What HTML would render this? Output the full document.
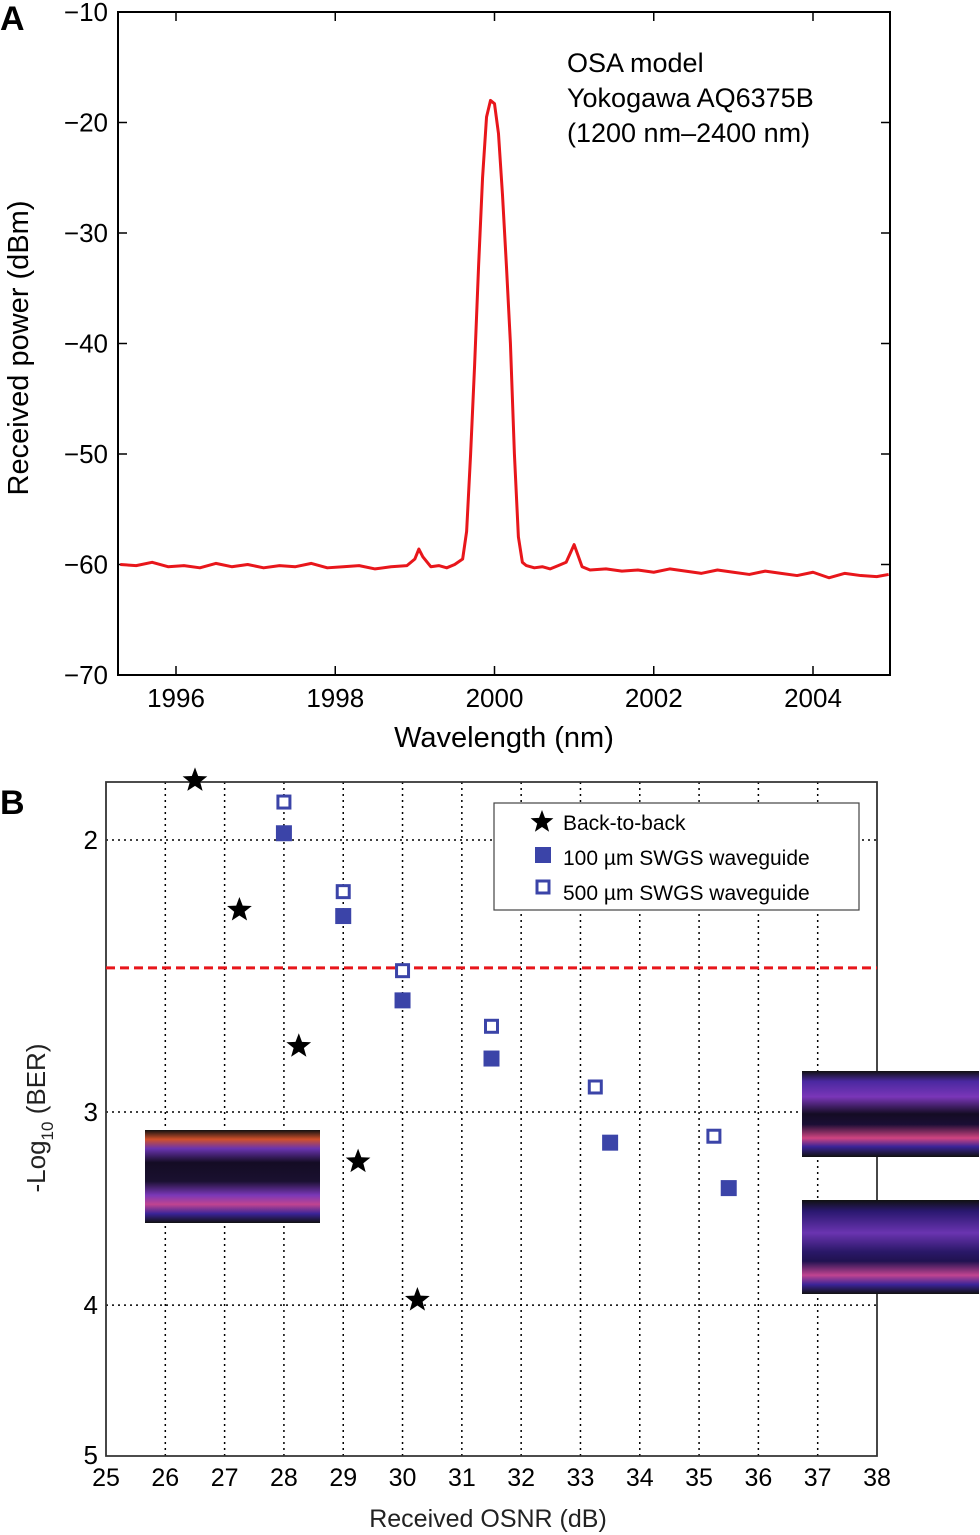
<!DOCTYPE html>
<html><head><meta charset="utf-8"><style>
body{margin:0;background:#fff;}
svg{display:block;font-family:"Liberation Sans",sans-serif;}
</style></head><body>
<svg id="fig" width="980" height="1535" viewBox="0 0 980 1535" xmlns="http://www.w3.org/2000/svg">
<defs>
<linearGradient id="eyeA" x1="0" y1="0" x2="0" y2="1">
<stop offset="0" stop-color="#111"/><stop offset="0.1" stop-color="#d0502a"/><stop offset="0.2" stop-color="#6a34b0"/><stop offset="0.35" stop-color="#140c24"/><stop offset="0.55" stop-color="#1a1030"/><stop offset="0.7" stop-color="#7a38b8"/><stop offset="0.8" stop-color="#c04490"/><stop offset="0.9" stop-color="#3a2498"/><stop offset="1" stop-color="#111"/></linearGradient>
<linearGradient id="eyeB" x1="0" y1="0" x2="0" y2="1">
<stop offset="0" stop-color="#111"/><stop offset="0.12" stop-color="#4a28a0"/><stop offset="0.3" stop-color="#7a36b8"/><stop offset="0.5" stop-color="#140c24"/><stop offset="0.62" stop-color="#1a0e34"/><stop offset="0.78" stop-color="#d04480"/><stop offset="0.88" stop-color="#3a2498"/><stop offset="1" stop-color="#111"/></linearGradient>
<linearGradient id="eyeC" x1="0" y1="0" x2="0" y2="1">
<stop offset="0" stop-color="#111"/><stop offset="0.12" stop-color="#2a1870"/><stop offset="0.35" stop-color="#6a34b0"/><stop offset="0.55" stop-color="#2a1868"/><stop offset="0.65" stop-color="#201250"/><stop offset="0.8" stop-color="#c04490"/><stop offset="0.9" stop-color="#3a2498"/><stop offset="1" stop-color="#111"/></linearGradient>
</defs>
<g id="panelA"></g>
<g id="panelB"></g>
</svg>
<script>
// ---------- Panel A data ----------
const wlTicks = [1996, 1998, 2000, 2002, 2004];
const pwTicks = [-10, -20, -30, -40, -50, -60, -70];
const spectrumWl = [1995.3,1995.5,1995.7,1995.9,1996.1,1996.3,1996.5,1996.7,1996.9,1997.1,1997.3,1997.5,1997.7,1997.9,1998.1,1998.3,1998.5,1998.7,1998.9,1999.0,1999.05,1999.1,1999.2,1999.3,1999.4,1999.5,1999.6,1999.65,1999.7,1999.75,1999.8,1999.85,1999.9,1999.95,2000.0,2000.05,2000.1,2000.15,2000.2,2000.25,2000.3,2000.35,2000.4,2000.5,2000.6,2000.7,2000.8,2000.9,2000.95,2001.0,2001.05,2001.1,2001.2,2001.4,2001.6,2001.8,2002.0,2002.2,2002.4,2002.6,2002.8,2003.0,2003.2,2003.4,2003.6,2003.8,2004.0,2004.2,2004.4,2004.6,2004.8,2004.95];
const spectrumDbm = [-60.0,-60.1,-59.8,-60.2,-60.1,-60.3,-59.9,-60.2,-60.0,-60.3,-60.1,-60.2,-59.9,-60.3,-60.2,-60.1,-60.4,-60.2,-60.1,-59.5,-58.6,-59.3,-60.2,-60.1,-60.3,-60.0,-59.5,-57.0,-50.0,-42.0,-33.0,-25.0,-19.5,-18.0,-18.3,-21.0,-26.5,-33.0,-40.0,-50.0,-57.5,-59.8,-60.1,-60.3,-60.2,-60.4,-60.1,-59.8,-59.0,-58.2,-59.2,-60.2,-60.5,-60.4,-60.6,-60.5,-60.7,-60.4,-60.6,-60.8,-60.5,-60.7,-60.9,-60.6,-60.8,-61.0,-60.7,-61.2,-60.8,-61.0,-61.1,-60.9];

// ---------- Panel B data ----------
const osnrTicks = [25,26,27,28,29,30,31,32,33,34,35,36,37,38];
const berTicks = [2,3,4,5];
const b2bOsnr = [26.5, 27.25, 28.25, 29.25, 30.25];
const b2bBer  = [1.83, 2.22, 2.72, 3.23, 3.97];
const wg100Osnr = [28, 29, 30, 31.5, 33.5, 35.5];
const wg100Ber  = [1.98, 2.24, 2.54, 2.77, 3.14, 3.36];
const wg500Osnr = [28, 29, 30, 31.5, 33.25, 35.25];
const wg500Ber  = [1.89, 2.16, 2.43, 2.64, 2.89, 3.11];
const fecThreshold = [2.42];

const NS = "http://www.w3.org/2000/svg";
function mk(parent, tag, attrs, text){
  const e = document.createElementNS(NS, tag);
  for (const k in attrs) e.setAttribute(k, attrs[k]);
  if (text !== undefined) e.textContent = text;
  parent.appendChild(e);
  return e;
}

// ---- Panel A ----
const A = document.getElementById('panelA');
const ax = {l:118, r:890, t:12, b:675};
const xA = w => 176 + (w - 1996) * (813 - 176) / 8;
const yA = p => ax.t + (-10 - p) * (ax.b - ax.t) / 60;
let lbl = mk(A,'text',{x:0,y:30,'font-size':34,'font-weight':'bold'},'A');


wlTicks.forEach(w=>{
  const t = mk(A,'path',{d:`M${xA(w)} ${ax.b}v-9M${xA(w)} ${ax.t}v9`,stroke:'#000','stroke-width':1.5});
  
  
  const tl = mk(A,'text',{x:xA(w),y:707,'font-size':26,'text-anchor':'middle'},String(w));
  
  
});
pwTicks.forEach(p=>{
  const t = mk(A,'path',{d:`M${ax.l} ${yA(p)}h9M${ax.r} ${yA(p)}h-9`,stroke:'#000','stroke-width':1.5});
  
  
  const tl = mk(A,'text',{x:108,y:yA(p)+9,'font-size':26,'text-anchor':'end'},'\u2212'+Math.abs(p));
  
  
});
let spec = mk(A,'polyline',{points:spectrumWl.map((w,i)=>xA(w)+','+yA(spectrumDbm[i])).join(' '),fill:'none',stroke:'#e8161b','stroke-width':3,'stroke-linejoin':'round'});


let fA = mk(A,'rect',{x:ax.l,y:ax.t,width:ax.r-ax.l,height:ax.b-ax.t,fill:'none',stroke:'#000','stroke-width':2});


let xt = mk(A,'text',{x:504,y:747,'font-size':29,'text-anchor':'middle'},'Wavelength (nm)');


let yt = mk(A,'text',{x:28,y:348,'font-size':29,'text-anchor':'middle',transform:'rotate(-90 28 348)'},'Received power (dBm)');


['OSA model','Yokogawa AQ6375B','(1200 nm\u20132400 nm)'].forEach((s,i)=>{
  const t = mk(A,'text',{x:567,y:72+i*35,'font-size':27},s);
  
  
});

// ---- Panel B ----
const B = document.getElementById('panelB');
const bx = {l:106, r:877, t:782, b:1456};
const xB = o => bx.l + (o - 25) * (bx.r - bx.l) / 13;
const yB = v => 840 + 1545 * (Math.log10(v) - Math.log10(2));
let lb = mk(B,'text',{x:0,y:814,'font-size':34,'font-weight':'bold'},'B');


osnrTicks.forEach(o=>{
  if (o>25 && o<38){
    const g = mk(B,'line',{x1:xB(o),x2:xB(o),y1:bx.t,y2:bx.b,stroke:'#000','stroke-width':1.5,'stroke-dasharray':'2 4'});
    
    
  }
  const tl = mk(B,'text',{x:xB(o),y:1486,'font-size':25,'text-anchor':'middle'},String(o));
  
  
});
berTicks.forEach(v=>{
  if (v<5){
    const g = mk(B,'line',{x1:bx.l,x2:bx.r,y1:yB(v),y2:yB(v),stroke:'#000','stroke-width':1.5,'stroke-dasharray':'2 4'});
    
    
  }
  const tl = mk(B,'text',{x:98,y:yB(v)+9,'font-size':26,'text-anchor':'end'},String(v));
  
  
});
let fB = mk(B,'path',{d:`M${bx.l} ${bx.t}H${bx.r}V${bx.b}H${bx.l}Z`,fill:'none',stroke:'#333','stroke-width':1.8});


let fec = mk(B,'line',{x1:bx.l,x2:bx.r,y1:yB(fecThreshold[0]),y2:yB(fecThreshold[0]),stroke:'#e8161b','stroke-width':3,'stroke-dasharray':'9 5'});


// eye diagrams
[[145,1130,175,93,'eyeA'],[802,1071,177,86,'eyeB'],[802,1200,177,94,'eyeC']].forEach(e=>{
  const r = mk(B,'rect',{x:e[0],y:e[1],width:e[2],height:e[3],fill:`url(#${e[4]})`});
  
  
});
function star(cx,cy,R){
  let d='';
  for(let i=0;i<10;i++){const r=i%2?R*0.42:R;const a=-Math.PI/2+i*Math.PI/5;d+=(i?'L':'M')+(cx+r*Math.cos(a)).toFixed(1)+' '+(cy+r*Math.sin(a)).toFixed(1);}
  return d+'Z';
}
b2bOsnr.forEach((o,i)=>{
  const s = mk(B,'path',{d:star(xB(o),yB(b2bBer[i]),13),fill:'#000'});
  
  
});
wg100Osnr.forEach((o,i)=>{
  const s = mk(B,'rect',{x:xB(o)-8,y:yB(wg100Ber[i])-8,width:16,height:16,fill:'#3b44a8'});
  
  
});
wg500Osnr.forEach((o,i)=>{
  const s = mk(B,'rect',{x:xB(o)-6,y:yB(wg500Ber[i])-6,width:12,height:12,fill:'#fff',stroke:'#3b44a8','stroke-width':3});
  
  
});
// legend
const L = mk(B,'g',{});


mk(L,'rect',{x:494,y:803,width:365,height:107,fill:'#fff',stroke:'#444','stroke-width':1.2});
const l1 = mk(L,'path',{d:star(542,822,12),fill:'#000'});


mk(L,'rect',{x:535,y:847,width:16,height:16,fill:'#3b44a8'});
mk(L,'rect',{x:537,y:881,width:12,height:12,fill:'#fff',stroke:'#3b44a8','stroke-width':3});
['Back-to-back','100 \u00b5m SWGS waveguide','500 \u00b5m SWGS waveguide'].forEach((s,i)=>{
  const t = mk(L,'text',{x:563,y:830+i*35,'font-size':21},s);
  
  
});
let bxT = mk(B,'text',{x:488,y:1527,'font-size':25,'text-anchor':'middle',fill:'#222'},'Received OSNR (dB)');


let byT = mk(B,'text',{x:45,y:1118,'font-size':26,'text-anchor':'middle',fill:'#222',transform:'rotate(-90 45 1118)'});


mk(byT,'tspan',{},'-Log');
mk(byT,'tspan',{'font-size':17,dy:8},'10');
mk(byT,'tspan',{dy:-8},' (BER)');
</script>
</body></html>
